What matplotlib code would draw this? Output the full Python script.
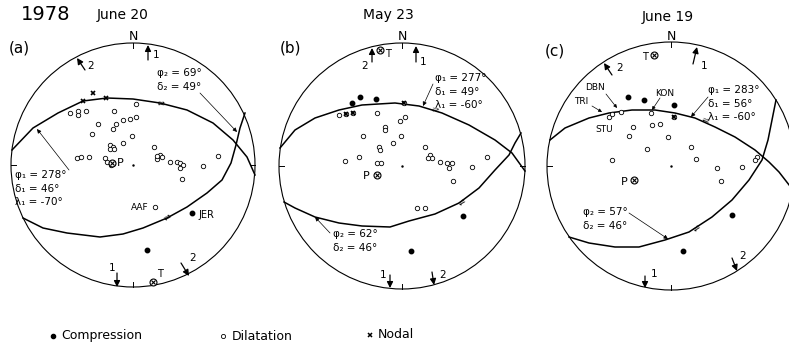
import matplotlib
matplotlib.use("Agg")
import matplotlib.pyplot as plt
from matplotlib.patches import Circle

plt.rcParams['font.family'] = ['DejaVu Sans']

# net outlines (image pixel frame), one per panel
net_cx = [133, 402, 671]
net_cy = [165, 166, 166]
net_r = [122, 123, 124]

panel_tags = ["(a)", "(b)", "(c)"]
panel_dates = ["June 20", "May 23", "June 19"]

# nodal plane traces
a_plane1 = [(12, 150), (33, 128), (58, 113), (83, 101), (107, 98), (133, 99), (160, 103),
            (187, 110), (213, 123), (233, 140), (247, 157), (255, 175)]
a_plane2 = [(23, 218), (43, 228), (67, 233), (100, 237), (123, 234), (143, 228), (167, 218),
            (187, 207), (207, 193), (222, 180), (231, 163), (236, 145), (240, 128), (245, 113)]
b_plane1 = [(280, 148), (295, 130), (315, 118), (339, 110), (362, 105), (395, 103), (419, 106),
            (442, 113), (469, 125), (495, 140), (512, 153), (525, 171)]
b_plane2 = [(284, 202), (295, 208), (315, 217), (339, 223), (362, 226), (390, 227), (409, 221),
            (435, 214), (459, 203), (479, 188), (495, 170), (509, 155), (515, 143), (521, 133)]
c_plane1 = [(550, 140), (565, 128), (589, 118), (609, 113), (632, 110), (655, 110), (675, 113),
            (695, 118), (715, 127), (735, 137), (755, 150), (769, 162), (779, 172), (793, 190)]
c_plane2 = [(569, 237), (589, 243), (615, 247), (639, 247), (665, 240), (689, 232), (712, 217),
            (732, 200), (749, 180), (762, 160), (768, 140), (772, 120), (776, 100)]

# first motions
a_comp = [(192, 213), (147, 250)]
a_dil = [(70, 113), (78, 111), (78, 115), (86, 111), (114, 111), (136, 104), (98, 124), (116, 124),
         (123, 120), (130, 119), (136, 117), (113, 129), (92, 134), (132, 136), (123, 143),
         (110, 145), (113, 147), (110, 149), (114, 149), (154, 147), (218, 156), (77, 158),
         (81, 157), (89, 157), (105, 158), (107, 162), (113, 163), (111, 165), (160, 155),
         (162, 157), (157, 159), (157, 156), (170, 162), (177, 162), (180, 163), (183, 165),
         (180, 168), (203, 166), (182, 179), (155, 207)]
a_nodal = [(83, 101), (93, 93), (106, 98)]
b_comp = [(352, 103), (360, 97), (376, 99), (463, 216), (411, 251)]
b_dil = [(339, 115), (346, 114), (353, 113), (404, 103), (377, 113), (405, 117), (400, 121),
         (385, 127), (385, 130), (363, 136), (401, 136), (393, 143), (379, 147), (380, 150),
         (425, 147), (430, 155), (432, 158), (428, 158), (440, 162), (359, 157), (345, 161),
         (377, 163), (381, 163), (447, 163), (452, 163), (449, 168), (472, 167), (487, 157),
         (453, 181), (417, 208), (425, 208)]
b_nodal = [(404, 103), (346, 114), (353, 113)]
c_comp = [(628, 97), (644, 100), (674, 105), (732, 215), (683, 251)]
c_dil = [(609, 117), (612, 114), (621, 112), (651, 113), (674, 117), (633, 127), (652, 125),
         (660, 124), (629, 136), (668, 137), (647, 149), (691, 147), (612, 160), (696, 159),
         (717, 168), (742, 167), (721, 181), (757, 157), (755, 160)]
c_nodal = [(674, 117)]

# P and T axes
p_axes = [(112, 163), (377, 175), (634, 180)]
t_axes = [(153, 282), (380, 50), (654, 55)]

# fault parameters shown on each panel
plane1_text = ["\u03c6\u2081 = 278\u00b0\n\u03b4\u2081 = 46\u00b0\n\u03bb\u2081 = -70\u00b0",
               "\u03c6\u2081 = 277\u00b0\n\u03b4\u2081 = 49\u00b0\n\u03bb\u2081 = -60\u00b0",
               "\u03c6\u2081 = 283\u00b0\n\u03b4\u2081 = 56\u00b0\n\u03bb\u2081 = -60\u00b0"]
plane2_text = ["\u03c6\u2082 = 69\u00b0\n\u03b4\u2082 = 49\u00b0",
               "\u03c6\u2082 = 62\u00b0\n\u03b4\u2082 = 46\u00b0",
               "\u03c6\u2082 = 57\u00b0\n\u03b4\u2082 = 46\u00b0"]

# slip vectors: tail, tip, label, label position
slip_arrows = [
    [((148, 60), (148, 45), "1", (156, 55)), ((85, 70), (77, 58), "2", (91, 66)),
     ((117, 273), (117, 287), "1", (112, 268)), ((181, 263), (189, 276), "2", (193, 258))],
    [((372, 62), (372, 48), "2", (365, 66)), ((416, 62), (416, 46), "1", (423, 62)),
     ((390, 275), (390, 288), "1", (383, 275)), ((432, 272), (434, 285), "2", (443, 275))],
    [((612, 75), (604, 63), "2", (620, 68)), ((693, 64), (697, 47), "1", (704, 66)),
     ((645, 276), (645, 288), "1", (654, 274)), ((732, 258), (737, 271), "2", (743, 256))],
]

fig = plt.figure(figsize=(7.89, 3.48), dpi=100)
ax = fig.add_axes([0, 0, 1, 1])
ax.set_xlim(0, 789)
ax.set_ylim(348, 0)
ax.set_aspect('equal')
ax.axis('off')

planes = [(a_plane1, a_plane2), (b_plane1, b_plane2), (c_plane1, c_plane2)]
comps = [a_comp, b_comp, c_comp]
dils = [a_dil, b_dil, c_dil]
nodals = [a_nodal, b_nodal, c_nodal]
tag_pos = [(19, 48), (291, 48), (555, 51)]
date_pos = [(123, 15), (388, 15), (668, 17)]

for i in range(3):
    cx, cy, r = net_cx[i], net_cy[i], net_r[i]
    ax.add_patch(Circle((cx, cy), r, fill=False, lw=0.8, color='k'))
    # cardinal ticks
    ax.plot([cx, cx], [cy - r, cy - r + 5], 'k-', lw=0.7)
    ax.plot([cx, cx], [cy + r, cy + r - 5], 'k-', lw=0.7)
    ax.plot([cx - r, cx - r + 5], [cy, cy], 'k-', lw=0.7)
    ax.plot([cx + r, cx + r - 5], [cy, cy], 'k-', lw=0.7)
    ax.plot(cx, cy, 'k.', ms=1.5)
    ax.text(cx, cy - r - 6, "N", ha='center', va='center', fontsize=9)

    for pl in planes[i]:
        ax.plot([p[0] for p in pl], [p[1] for p in pl], 'k-', lw=1.1)

    ax.plot([p[0] for p in dils[i]], [p[1] for p in dils[i]], 'o', ms=3.2,
            mfc='white', mec='k', mew=0.6, ls='none')
    ax.plot([p[0] for p in comps[i]], [p[1] for p in comps[i]], 'o', ms=3.2,
            color='k', ls='none')
    ax.plot([p[0] for p in nodals[i]], [p[1] for p in nodals[i]], 'x', ms=3.5,
            color='k', mew=1.2, ls='none')

    for (x, y) in [p_axes[i], t_axes[i]]:
        ax.plot(x, y, 'o', ms=5, mfc='white', mec='k', mew=0.8)
        ax.plot(x, y, 'x', ms=3, color='k', mew=0.8)

    for (tail, tip, lab, lpos) in slip_arrows[i]:
        ax.annotate('', xy=tip, xytext=tail,
                    arrowprops=dict(arrowstyle='-|>', color='k', lw=0.9,
                                    mutation_scale=9, shrinkA=0, shrinkB=0))
        ax.text(lpos[0], lpos[1], lab, ha='center', va='center', fontsize=7.5)

    ax.text(tag_pos[i][0], tag_pos[i][1], panel_tags[i], ha='center', va='center', fontsize=11)
    ax.text(date_pos[i][0], date_pos[i][1], panel_dates[i], ha='center', va='center', fontsize=10)

ax.text(46, 14, "1978", ha='center', va='center', fontsize=14)

# parameter blocks and leaders
p1_pos = [(15, 175), (435, 78), (708, 90)]
p2_pos = [(157, 73), (333, 234), (583, 212)]
p1_lead = [((69, 170), (37, 129)), ((433, 84), (423, 106)), ((708, 97), (691, 117))]
p2_lead = [((200, 93), (237, 132)), ((330, 233), (315, 217)), ((629, 213), (668, 239))]
for i in range(3):
    ax.text(p1_pos[i][0], p1_pos[i][1] - 5, plane1_text[i], ha='left', va='top',
            fontsize=7.5, linespacing=1.45)
    ax.text(p2_pos[i][0], p2_pos[i][1] - 5, plane2_text[i], ha='left', va='top',
            fontsize=7.5, linespacing=1.45)
    for (s, e) in [p1_lead[i], p2_lead[i]]:
        ax.annotate('', xy=e, xytext=s,
                    arrowprops=dict(arrowstyle='-|>', color='k', lw=0.5,
                                    mutation_scale=6, shrinkA=0, shrinkB=0))

# sense-of-slip marks along the planes
slip_marks = [(161, 104, -12), (168, 218, 25), (435, 111, -17), (462, 203, 30),
              (705, 121, -24), (697, 229, 33)]
for (x, y, rot) in slip_marks:
    ax.text(x, y, "\u21cc", ha='center', va='center', fontsize=6, rotation=rot)

# station names
ax.text(149, 207, "AAF", ha='right', va='center', fontsize=6.5)
ax.text(198, 215, "JER", ha='left', va='center', fontsize=7)
ax.text(117, 163, "P", ha='left', va='center', fontsize=8)
ax.text(157, 274, "T", ha='left', va='center', fontsize=7)
ax.text(370, 176, "P", ha='right', va='center', fontsize=8)
ax.text(385, 54, "T", ha='left', va='center', fontsize=7)
ax.text(628, 182, "P", ha='right', va='center', fontsize=8)
ax.text(648, 57, "T", ha='right', va='center', fontsize=7)
ax.text(574, 102, "TRI", ha='left', va='center', fontsize=6.5)
ax.text(585, 88, "DBN", ha='left', va='center', fontsize=6.5)
ax.text(655, 93, "KON", ha='left', va='center', fontsize=6.5)
ax.text(595, 130, "STU", ha='left', va='center', fontsize=6.5)
for (s, e) in [((592, 106), (602, 112)), ((606, 94), (617, 108)), ((660, 98), (652, 110))]:
    ax.annotate('', xy=e, xytext=s,
                arrowprops=dict(arrowstyle='-|>', color='k', lw=0.5,
                                mutation_scale=5, shrinkA=0, shrinkB=0))

# legend row
ax.plot(53, 336, 'o', ms=3, color='k')
ax.text(61, 336, "Compression", ha='left', va='center', fontsize=9)
ax.plot(223, 336, 'o', ms=3, mfc='white', mec='k', mew=0.6)
ax.text(232, 336, "Dilatation", ha='left', va='center', fontsize=9)
ax.plot(370, 335, 'x', ms=3, color='k', mew=1.1)
ax.text(378, 335, "Nodal", ha='left', va='center', fontsize=9)

fig.savefig("out.png", dpi=100)
